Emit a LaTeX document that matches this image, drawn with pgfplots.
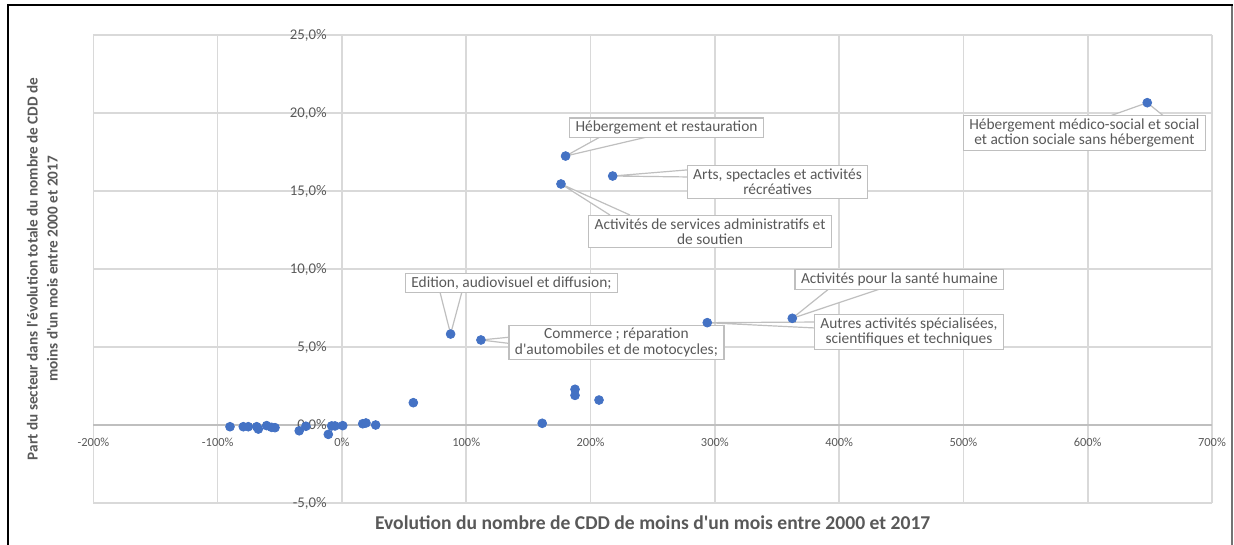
\documentclass[border=0pt]{standalone}
\usepackage{pgfplots}
\pgfplotsset{compat=1.18}
\usepackage{fontspec}
\setmainfont{Carlito}
\usetikzlibrary{calc}

\definecolor{dotblue}{HTML}{4472C4}
\definecolor{gridgray}{HTML}{D9D9D9}
\definecolor{txtgray}{HTML}{595959}
\definecolor{boxgray}{HTML}{BFBFBF}
\newcommand{\q}{\textquotesingle}

\begin{document}
\begin{tikzpicture}[
    lbl/.style={draw=boxgray, fill=white, text=txtgray, align=center,
      font=\fontsize{7.7}{7.6}\selectfont, inner xsep=3pt, inner ysep=1.6pt, line width=0.6pt},
    callout/.style={draw=boxgray, fill=white, line width=0.6pt, line join=round},
  ]
\begin{axis}[
    scale only axis,
    width=559.3pt, height=234pt,
    xmin=-200, xmax=700, ymin=-5, ymax=25,
    xtick={-200,-100,...,700},
    ytick={-5,0,...,25},
    axis lines=middle,
    x axis line style={draw=boxgray, line width=0.7pt, -},
    y axis line style={draw=gridgray, line width=0.8pt, -},
    hide obscured x ticks=false,
    hide obscured y ticks=false,
    grid=major,
    grid style={draw=gridgray, line width=0.8pt},
    tick style={draw=none},
    clip=false,
    /pgf/number format/assume math mode=true,
    xticklabel={\pgfmathprintnumber[fixed,precision=0]{\tick}\%},
    yticklabel={\pgfmathprintnumber[fixed,fixed zerofill,precision=1,use comma]{\tick}\%},
    xticklabel style={font=\fontsize{6.2}{7}\selectfont, text=txtgray, yshift=-1pt},
    yticklabel style={font=\fontsize{7.4}{8}\selectfont, text=txtgray, xshift=-2pt},
  ]
  \coordinate (SW) at (rel axis cs:0,0);
  \coordinate (NE) at (rel axis cs:1,1);

  % secteurs : evolution (%) , part (%)
  \addplot[only marks, mark=*, mark size=2.2pt, draw=dotblue, fill=dotblue]
  coordinates {
    (-90.1,-0.11) (-79.4,-0.11) (-75.4,-0.11) (-68.6,-0.11) (-67.3,-0.26)
    (-60.6,-0.04) (-56.6,-0.15) (-53.9,-0.17) (-34.4,-0.37) (-29.0,-0.08)
    (-11.0,-0.60) (-8.3,-0.06) (-5.6,-0.06) (0.6,-0.04) (16.7,0.08)
    (19.3,0.13) (27.1,0.0) (57.4,1.43) (161.1,0.11) (187.5,2.29)
    (187.5,1.90) (206.8,1.60)
    (179.9,17.24) (217.8,15.96) (176.2,15.45) (87.4,5.83) (111.8,5.45)
    (293.9,6.56) (362.3,6.84) (647.9,20.66)
  };

  % etiquettes
  \draw[callout] (axis cs:207.6,18.46) -- (axis cs:179.9,17.24) -- (axis cs:245.4,18.46);
  \node[lbl] at (axis cs:261.1,19.04) {Hébergement et restauration};

  \draw[callout] (axis cs:277.6,16.35) -- (axis cs:217.8,15.96) -- (axis cs:277.6,15.90);
  \node[lbl] at (axis cs:350.4,15.58) {Arts, spectacles et activités\\récréatives};

  \draw[callout] (axis cs:215.6,13.46) -- (axis cs:176.2,15.45) -- (axis cs:231.7,13.46);
  \node[lbl] at (axis cs:296.1,12.40) {Activités de services administratifs et\\de soutien};

  \draw[callout] (axis cs:78.8,8.53) -- (axis cs:87.4,5.83) -- (axis cs:96.5,8.53);
  \node[lbl] at (axis cs:136.4,9.10) {Edition, audiovisuel et diffusion;};

  \draw[callout] (axis cs:133.5,5.62) -- (axis cs:111.8,5.45) -- (axis cs:133.5,5.24);
  \node[lbl] at (axis cs:220.8,5.29) {Commerce ; réparation\\d\q automobiles et de motocycles;};

  \draw[callout] (axis cs:392.6,8.78) -- (axis cs:362.3,6.84) -- (axis cs:435.2,8.78);
  \node[lbl] at (axis cs:448.5,9.33) {Activités pour la santé humaine};

  \draw[callout] (axis cs:380.5,6.60) -- (axis cs:293.9,6.56) -- (axis cs:380.5,6.22);
  \node[lbl] at (axis cs:456.2,5.96) {Autres activités spécialisées,\\scientifiques et techniques};

  \draw[callout] (axis cs:615.4,19.74) -- (axis cs:647.9,20.66) -- (axis cs:662.1,19.74);
  \node[lbl] at (axis cs:597.3,18.72) {Hébergement médico-social et social\\et action sociale sans hébergement};
\end{axis}

% titres des axes
\node[font=\bfseries\fontsize{9.8}{11}\selectfont, text=txtgray]
  at ($(SW -| NE)!0.5!(SW) + (0,-10pt)$) {Evolution du nombre de CDD de moins d\q un mois entre 2000 et 2017};
\node[rotate=90, align=center, font=\bfseries\fontsize{7.6}{10}\selectfont, text=txtgray]
  at ($(SW)!0.5!(SW |- NE) + (-25.5pt,0)$)
  {Part du secteur dans l\q évolution totale du nombre de CDD de\\moins d\q un mois entre 2000 et 2017};

% cadre
\path[use as bounding box] ($(SW)+(-46.7pt,-20.5pt)$) rectangle ($(NE)+(11pt,17.5pt)$);
\draw[black!55, line width=0.6pt] ($(NE)+(10pt,15pt)$) -- ($(SW -| NE)+(10pt,-21pt)$);
\draw[black, line width=1pt] ($(SW)+(-42.7pt,-21pt)$) -- ($(SW |- NE)+(-42.7pt,15pt)$) -- ($(NE)+(10.3pt,15pt)$);
\end{tikzpicture}
\end{document}
